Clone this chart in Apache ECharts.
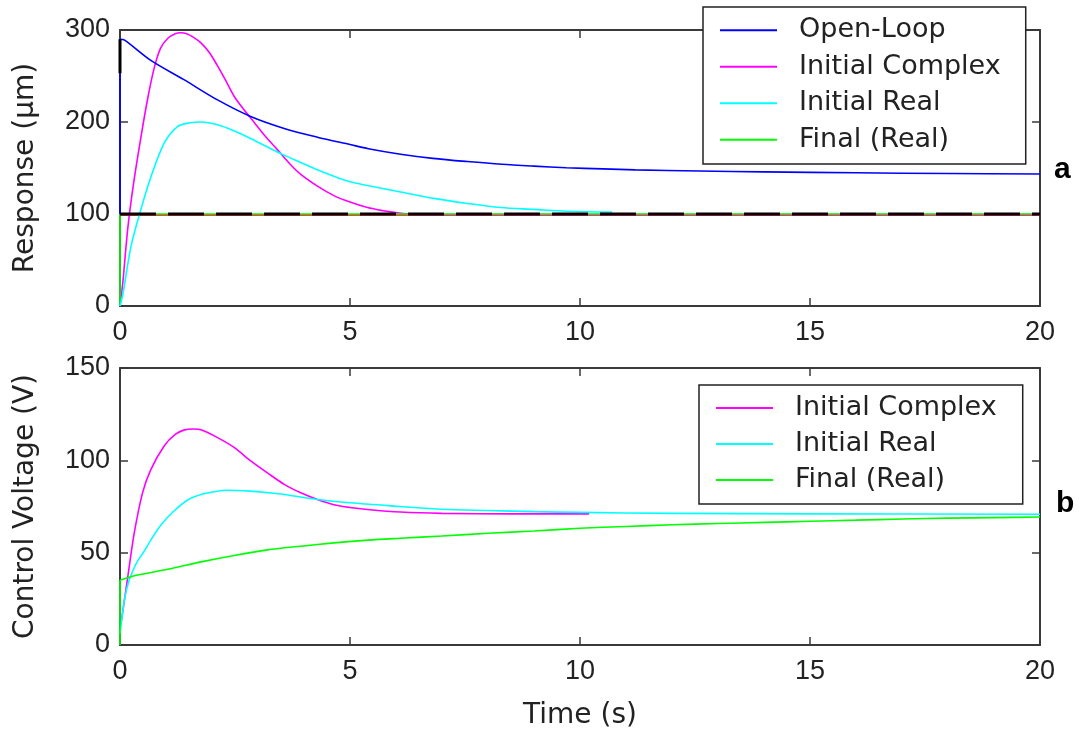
<!DOCTYPE html>
<html>
<head>
<meta charset="utf-8">
<title>Response and Control Voltage</title>
<script src="https://cdn.jsdelivr.net/npm/echarts@6/dist/echarts.min.js"></script>
<style>
  html, body { margin: 0; padding: 0; background: #fff; }
  #chart { width: 1081px; height: 733px; }
</style>
</head>
<body>
<div id="chart"></div>
<script>
// ---- data: [time (s), value] ----
const xTicks = [0, 5, 10, 15, 20];
const responseTicks = [0, 100, 200, 300];
const voltageTicks = [0, 50, 100, 150];

// Panel a: response (um)
const respOpenLoopJump = [[0, 100], [0, 290]];
const respOpenLoop = [
  [0, 290], [0.1, 289], [0.67, 267], [1.39, 246], [2.12, 224], [2.84, 206],
  [3.57, 193], [4.29, 183.5], [5.0, 175.5], [5.4, 171], [6.1, 165], [6.8, 160.5],
  [7.55, 157], [8.3, 154], [9.0, 152], [9.7, 150.3], [10.5, 149], [11.2, 148],
  [12.6, 146.8], [14, 145.8], [16, 144.8], [18, 144], [20, 143.5]
];
const respComplex = [
  [0, 0], [0.06, 25], [0.17, 85], [0.3, 135], [0.46, 185], [0.6, 225], [0.74, 258],
  [0.88, 280], [1.04, 291], [1.2, 296], [1.32, 297], [1.45, 296], [1.6, 292], [1.76, 286],
  [1.95, 275], [2.12, 261], [2.3, 245], [2.48, 228], [2.7, 213], [2.91, 200], [3.15, 185],
  [3.42, 170], [3.7, 154], [3.93, 143], [4.3, 130], [4.65, 120], [5.0, 113], [5.38, 107],
  [5.73, 103.5], [6.0, 101.5], [6.5, 99.5], [20, 99.5]
];
const respReal = [
  [0, 0], [0.06, 12], [0.24, 65], [0.46, 106], [0.67, 140], [0.96, 177], [1.25, 195],
  [1.5, 199], [1.76, 200], [2.12, 197], [2.5, 190], [2.84, 182], [3.2, 173], [3.57, 164],
  [3.93, 156], [4.29, 148], [4.65, 141], [5.0, 135], [5.38, 131], [6.1, 124], [6.82, 117],
  [7.55, 111.5], [8.27, 107], [9.0, 105], [9.72, 103], [10.7, 102]
];
const respFinal = [[0, 0], [0, 100], [20, 100]];
const respSetpoint = [[0, 99], [20, 99]];
const respTarget = [[0, 100], [20, 100]];
const respStartMark = [[0, 253], [0, 290]];

// Panel b: control voltage (V)
const voltComplex = [
  [0.03, 13], [0.17, 37], [0.31, 60.7], [0.49, 82.4], [0.67, 95], [0.96, 107.8], [1.2, 114],
  [1.4, 116.5], [1.6, 117], [1.76, 116.5], [2.12, 112.3], [2.48, 107], [2.84, 99.7],
  [3.2, 93.3], [3.57, 87], [3.93, 82.4], [4.29, 78.8], [4.65, 76], [5.0, 74.5], [5.38, 73.4],
  [6.1, 72], [7, 71.3], [8.5, 71], [10.2, 71]
];
const voltReal = [
  [0, 6], [0.1, 25], [0.2, 35], [0.35, 44], [0.53, 51], [0.7, 58], [0.89, 65], [1.15, 72],
  [1.47, 78.5], [1.76, 81.5], [2.05, 83], [2.34, 83.8], [2.84, 83.3], [3.2, 82.5],
  [3.57, 81.5], [4.29, 78.8], [5.0, 77], [6.1, 75], [7, 73.5], [8, 72.8], [9, 72.2],
  [10, 71.8], [12, 71.3], [15, 71], [20, 70.8]
];
const voltFinalJump = [[0, 0], [0, 35]];
const voltFinal = [
  [0, 35], [0.31, 37.5], [1.04, 41], [1.76, 45], [2.48, 48.5], [3.2, 51.5],
  [3.93, 53.5], [4.65, 55.3], [5.4, 56.8], [6.1, 57.8], [7, 59], [8, 60.5], [9, 61.7],
  [10, 63.2], [11, 64.2], [12, 65.1], [13, 65.8], [14, 66.4], [15, 67], [16, 67.6],
  [17, 68.2], [18, 68.7], [19, 69], [20, 69.3]
];

const legendA = ['Open-Loop', 'Initial Complex', 'Initial Real', 'Final (Real)'];
const legendB = ['Initial Complex', 'Initial Real', 'Final (Real)'];

// ---- styling ----
const NUM_FONT = 'Liberation Sans, Arial, sans-serif';
const TXT_FONT = 'DejaVu Sans, Verdana, sans-serif';
const AXIS_COLOR = '#3a3a3a';
const TEXT_COLOR = '#222';
const C = {
  open: '#0000ff', complex: '#ff00ff', real: '#00ffff', final: '#00ff00',
  setpoint: '#ff0000', target: '#000000'
};

function boxAxis(kind, gridIndex, position, range, showLabels, extra) {
  const ax = {
    type: 'value', gridIndex, position,
    min: range[0], max: range[range.length - 1], interval: range[1] - range[0],
    axisLine: { show: true, onZero: false, lineStyle: { color: AXIS_COLOR, width: 2 } },
    axisTick: { show: true, inside: true, length: 8, lineStyle: { color: AXIS_COLOR, width: 1.5 } },
    axisLabel: {
      show: showLabels, color: TEXT_COLOR, fontFamily: NUM_FONT, fontSize: 27,
      margin: kind === 'x' ? 13 : 10
    },
    splitLine: { show: false }
  };
  return Object.assign(ax, extra || {});
}

function line(name, data, color, xi, yi, extra) {
  return Object.assign({
    name, type: 'line', data, xAxisIndex: xi, yAxisIndex: yi,
    showSymbol: false, symbol: 'none', smooth: 0.3, animation: false,
    lineStyle: { color, width: 1.6 }, itemStyle: { color },
    emphasis: { disabled: true }
  }, extra || {});
}

function straight(name, data, color, xi, yi, width, type) {
  return line(name, data, color, xi, yi, {
    smooth: false, lineStyle: { color, width, type: type || 'solid' }
  });
}

function legendBox(data, left, top, rowH, pad) {
  return {
    data, orient: 'vertical', left, top, padding: pad,
    itemWidth: 57, itemHeight: 2, itemGap: 0, icon: 'rect',
    backgroundColor: '#fff', borderColor: '#222', borderWidth: 1.5,
    selectedMode: false,
    textStyle: {
      color: TEXT_COLOR, fontFamily: TXT_FONT, fontSize: 27, lineHeight: rowH,
      padding: [0, 0, 0, 17]
    }
  };
}

const nameStyle = { color: TEXT_COLOR, fontFamily: TXT_FONT, fontSize: 28 };

const chart = echarts.init(document.getElementById('chart'), null, { renderer: 'canvas' });

chart.setOption({
  backgroundColor: '#fff',
  animation: false,
  grid: [
    { left: 120, top: 30, width: 920, height: 276 },
    { left: 120, top: 368, width: 920, height: 277 }
  ],
  xAxis: [
    boxAxis('x', 0, 'bottom', xTicks, true),
    boxAxis('x', 0, 'top', xTicks, false),
    boxAxis('x', 1, 'bottom', xTicks, true, {
      name: 'Time (s)', nameLocation: 'middle', nameGap: 57, nameTextStyle: nameStyle
    }),
    boxAxis('x', 1, 'top', xTicks, false)
  ],
  yAxis: [
    boxAxis('y', 0, 'left', responseTicks, true, {
      name: 'Response (\u03bcm)', nameLocation: 'middle', nameGap: 80, nameTextStyle: nameStyle
    }),
    boxAxis('y', 0, 'right', responseTicks, false),
    boxAxis('y', 1, 'left', voltageTicks, true, {
      name: 'Control Voltage (V)', nameLocation: 'middle', nameGap: 80, nameTextStyle: nameStyle
    }),
    boxAxis('y', 1, 'right', voltageTicks, false)
  ],
  legend: [
    legendBox(legendA, 703, 7, 36.5, [5, 25, 6, 17]),
    legendBox(legendB, 699, 385, 36, [5, 26, 6, 17])
  ],
  graphic: [
    { type: 'text', left: 1054, top: 155, style: { text: 'a', font: 'bold 30px ' + NUM_FONT, fill: '#000' } },
    { type: 'text', left: 1056, top: 489, style: { text: 'b', font: 'bold 30px ' + NUM_FONT, fill: '#000' } }
  ],
  series: [
    // panel a
    straight('Setpoint', respSetpoint, C.setpoint, 0, 0, 1.6),
    line('Initial Complex', respComplex, C.complex, 0, 0),
    straight('Final (Real)', respFinal, C.final, 0, 0, 1.6),
    line('Initial Real', respReal, C.real, 0, 0),
    straight('Open-Loop', respOpenLoopJump, C.open, 0, 0, 1.6),
    line('Open-Loop', respOpenLoop, C.open, 0, 0),
    straight('Target', respTarget, C.target, 0, 0, 3, [36, 12]),
    straight('Start', respStartMark, C.target, 0, 0, 3),
    // panel b
    line('Initial Complex', voltComplex, C.complex, 2, 2),
    line('Initial Real', voltReal, C.real, 2, 2),
    straight('Final (Real)', voltFinalJump, C.final, 2, 2, 1.6),
    line('Final (Real)', voltFinal, C.final, 2, 2)
  ]
});
</script>
</body>
</html>
